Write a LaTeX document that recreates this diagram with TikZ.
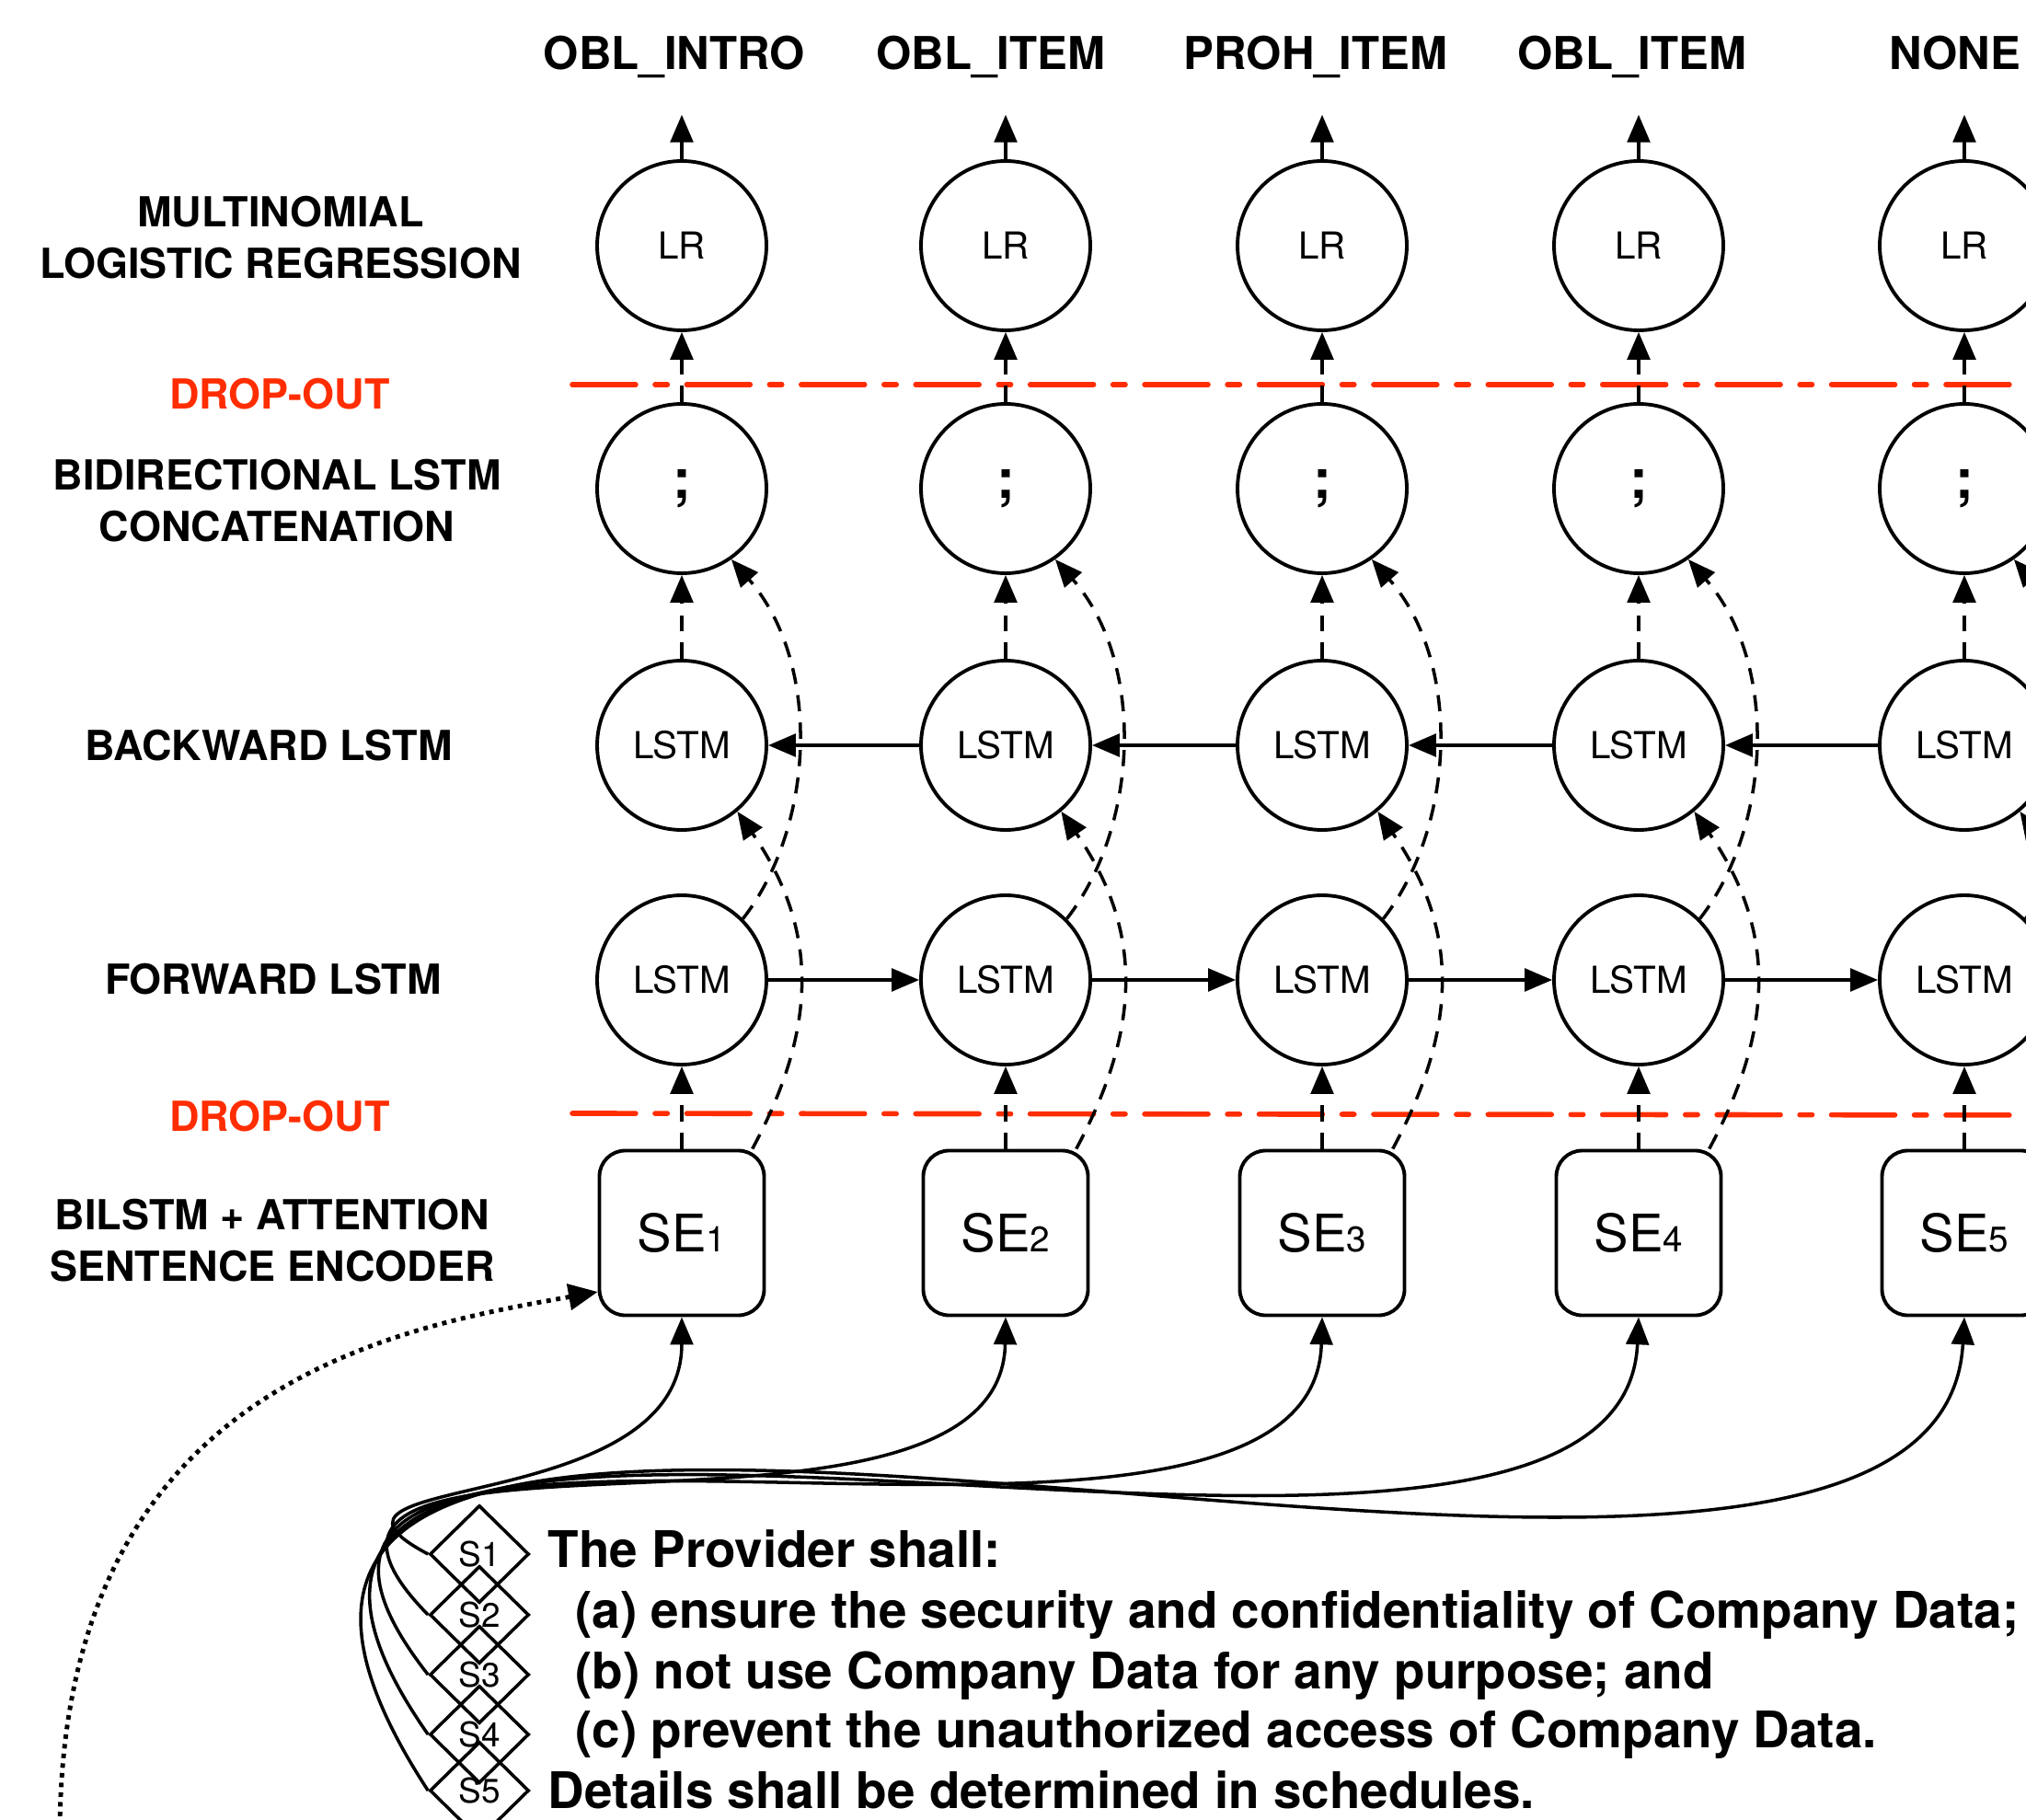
\documentclass[tikz,border=0pt]{standalone}
\usepackage{fontspec}
\setmainfont{TeX Gyre Heros}
\usetikzlibrary{arrows.meta,shapes.geometric}

\definecolor{dropred}{RGB}{255,45,0}

\tikzset{
  tip/.style={-{Triangle[length=8.5pt,width=7pt]}},
  conn/.style={line width=1pt},
  skipline/.style={line width=1pt,dash pattern=on 5pt off 3.5pt},
  unit/.style={circle,draw,line width=1.1pt,minimum size=1.84cm,inner sep=0pt,font=\fontsize{11.5}{13}\selectfont},
  enc/.style={rectangle,draw,line width=1.1pt,rounded corners=0.28cm,minimum size=1.79cm,inner sep=0pt},
  sent/.style={diamond,draw,line width=1pt,minimum width=1.08cm,minimum height=1.06cm,inner sep=0pt,font=\fontsize{10.5}{12}\selectfont},
  layer/.style={align=center,font=\bfseries\fontsize{12.8}{16}\selectfont},
  outlbl/.style={anchor=base,inner sep=0pt,text depth=0pt,font=\bfseries\fontsize{14}{16}\selectfont},
  para/.style={anchor=base west,inner sep=0pt,font=\bfseries\fontsize{15.6}{18}\selectfont},
  dropline/.style={dropred,line width=1.6pt,line cap=round,dash pattern=on 19.6pt off 6pt on 3.8pt off 6pt},
  dotline/.style={line width=1.4pt,dash pattern=on 1.4pt off 1.6pt,-{Triangle[length=9pt,width=8pt]}}
}

\begin{document}
\begin{tikzpicture}
  \useasboundingbox (0,0) rectangle (22.02,-19.78);

  % layer names
  \node[layer] (nLR) at (3.05,-2.58) {MULTINOMIAL\\LOGISTIC REGRESSION};
  \node[layer,text=dropred] (nD1) at (3.04,-4.28) {DROP-OUT};
  \node[layer] (nC) at (3.01,-5.44) {BIDIRECTIONAL LSTM\\CONCATENATION};
  \node[layer] (nB) at (2.92,-8.10) {BACKWARD LSTM};
  \node[layer] (nF) at (2.97,-10.64) {FORWARD LSTM};
  \node[layer,text=dropred] (nD2) at (3.04,-12.13) {DROP-OUT};
  \node[layer] (nSE) at (2.96,-13.48) {BILSTM + ATTENTION\\SENTENCE ENCODER};

  % drop-out
  \draw[dropline] (6.22,-4.18) -- (22.6,-4.18);
  \draw[dropline] (6.22,-12.10) -- (22.6,-12.12);

  \foreach \i/\x/\lx/\lbl in {1/7.41/7.33/OBL\_INTRO, 2/10.93/10.77/OBL\_ITEM, 3/14.37/14.30/PROH\_ITEM, 4/17.81/17.74/OBL\_ITEM, 5/21.35/21.25/NONE} {
    \node[unit] (LR\i) at (\x,-2.67) {LR};
    \node[unit] (C\i) at (\x,-5.31) {\bfseries\fontsize{17}{17}\selectfont ;};
    \node[unit] (B\i) at (\x,-8.10) {LSTM};
    \node[unit] (F\i) at (\x,-10.65) {LSTM};
    \node[enc] (SE\i) at (\x,-13.40) {{\fontsize{16}{16}\selectfont SE}{\fontsize{11}{11}\selectfont\i}};
    \node[outlbl] (Y\i) at (\lx,-0.76) {\lbl};

    \draw[tip,conn,shorten >=0.48cm] (LR\i.north) -- (LR\i.north |- Y\i.south);
    \draw[tip,skipline] (C\i) -- (LR\i);
    \draw[tip,skipline] (B\i) -- (C\i);
    \draw[tip,skipline] (SE\i) -- (F\i);
    \draw[tip,skipline] (F\i.45) .. controls +(0.78,1.0) and +(0.99,-1.13) .. (C\i.-55);
    \draw[tip,skipline] (SE\i.50) .. controls +(0.7,1.3) and +(0.9,-1.3) .. (B\i.-50);
  }

  \foreach \i/\j in {1/2,2/3,3/4,4/5} {
    \draw[tip,conn] (F\i) -- (F\j);
    \draw[tip,conn] (B\j) -- (B\i);
  }

  % sentences
  \foreach \i/\y in {1/-16.89,2/-17.55,3/-18.20,4/-18.85,5/-19.46} {
    \node[sent] (S\i) at (5.21,\y) {S\i};
  }
  \node[para] (P0) at (5.95,-17.03) {The Provider shall:};
  \node[para] (P1) at (6.25,-17.69) {(a) ensure the security and confidentiality of Company Data;};
  \node[para] (P2) at (6.25,-18.35) {(b) not use Company Data for any purpose; and};
  \node[para] (P3) at (6.25,-18.99) {(c) prevent the unauthorized access of Company Data.};
  \node[para] (P4) at (5.95,-19.65) {Details shall be determined in schedules.};

  \foreach \i/\ax/\ay/\bx/\by in {1/-1.7/0.9/0/-2.2, 2/-2.5/2.55/-0.05/-2.95, 3/-3.3/4.2/-0.1/-3.7, 4/-4.1/5.85/-0.2/-4.45, 5/-4.9/7.5/-0.3/-5.4} {
    \draw[tip,conn] (S\i.west) .. controls +(\ax,\ay) and +(\bx,\by) .. (SE\i.south);
  }

  \coordinate (src) at (0.65,-19.95);
  \draw[dotline] (src) .. controls +(0,4.9) and +(-2.19,-0.39) .. (SE1.-145);
\end{tikzpicture}
\end{document}
